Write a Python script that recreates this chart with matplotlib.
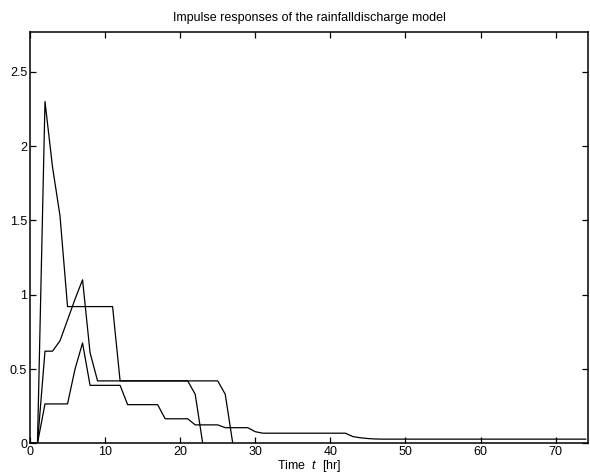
import numpy as np
import matplotlib
matplotlib.use('Agg')
import matplotlib.pyplot as plt

plt.rcParams['font.family'] = ['Liberation Sans', 'DejaVu Sans']
plt.rcParams['mathtext.fontset'] = 'custom'
plt.rcParams['mathtext.it'] = 'Liberation Sans:italic'

# impulse responses, one value per hour starting at t = 0
resp_a = [0, 0, 2.30, 1.86, 1.53, 0.92, 0.92, 0.92, 0.92, 0.92, 0.92, 0.92,
          0.42, 0.42, 0.42, 0.42, 0.42, 0.42, 0.42, 0.42, 0.42, 0.42, 0.42,
          0.42, 0.42, 0.42, 0.33, 0.0]
resp_b = [0, 0, 0.62, 0.62, 0.69, 0.83, 0.97, 1.10, 0.61, 0.42, 0.42, 0.42,
          0.42, 0.42, 0.42, 0.42, 0.42, 0.42, 0.42, 0.42, 0.42, 0.42, 0.33,
          0.0]
resp_c = ([0, 0, 0.265, 0.265, 0.265, 0.265, 0.50, 0.675, 0.39, 0.39, 0.39,
           0.39, 0.39, 0.26, 0.26, 0.26, 0.26, 0.26, 0.165, 0.165, 0.165,
           0.165, 0.124, 0.124, 0.124, 0.124, 0.105, 0.105, 0.105, 0.105,
           0.078]
          + [0.068] * 12
          + [0.045, 0.037, 0.032, 0.029]
          + [0.028] * 28)

fig = plt.figure(figsize=(5.9, 4.76), dpi=100)
ax = fig.add_axes([0.0508, 0.0687, 0.9458, 0.8647])

for r in (resp_a, resp_b, resp_c):
	ax.plot(np.arange(len(r)), r, color='black', lw=0.9)

ax.set_xlim(0, 74.3)
ax.set_ylim(0, 2.77)
ax.set_xticks(np.arange(0, 71, 10))
ax.set_yticks([0, 0.5, 1, 1.5, 2, 2.5])
ax.set_yticklabels(['0', '0.5', '1', '1.5', '2', '2.5'])
ax.tick_params(direction='in', length=4, width=0.9, top=True, right=True,
               labelsize=9, pad=2, colors='black')
for s in ax.spines.values():
	s.set_linewidth(1.1)

ax.set_title('Impulse responses of the rainfalldischarge model', fontsize=9, pad=8)
ax.set_xlabel('Time  $t$  [hr]', fontsize=9, labelpad=0)

fig.savefig('out.png', dpi=100)
